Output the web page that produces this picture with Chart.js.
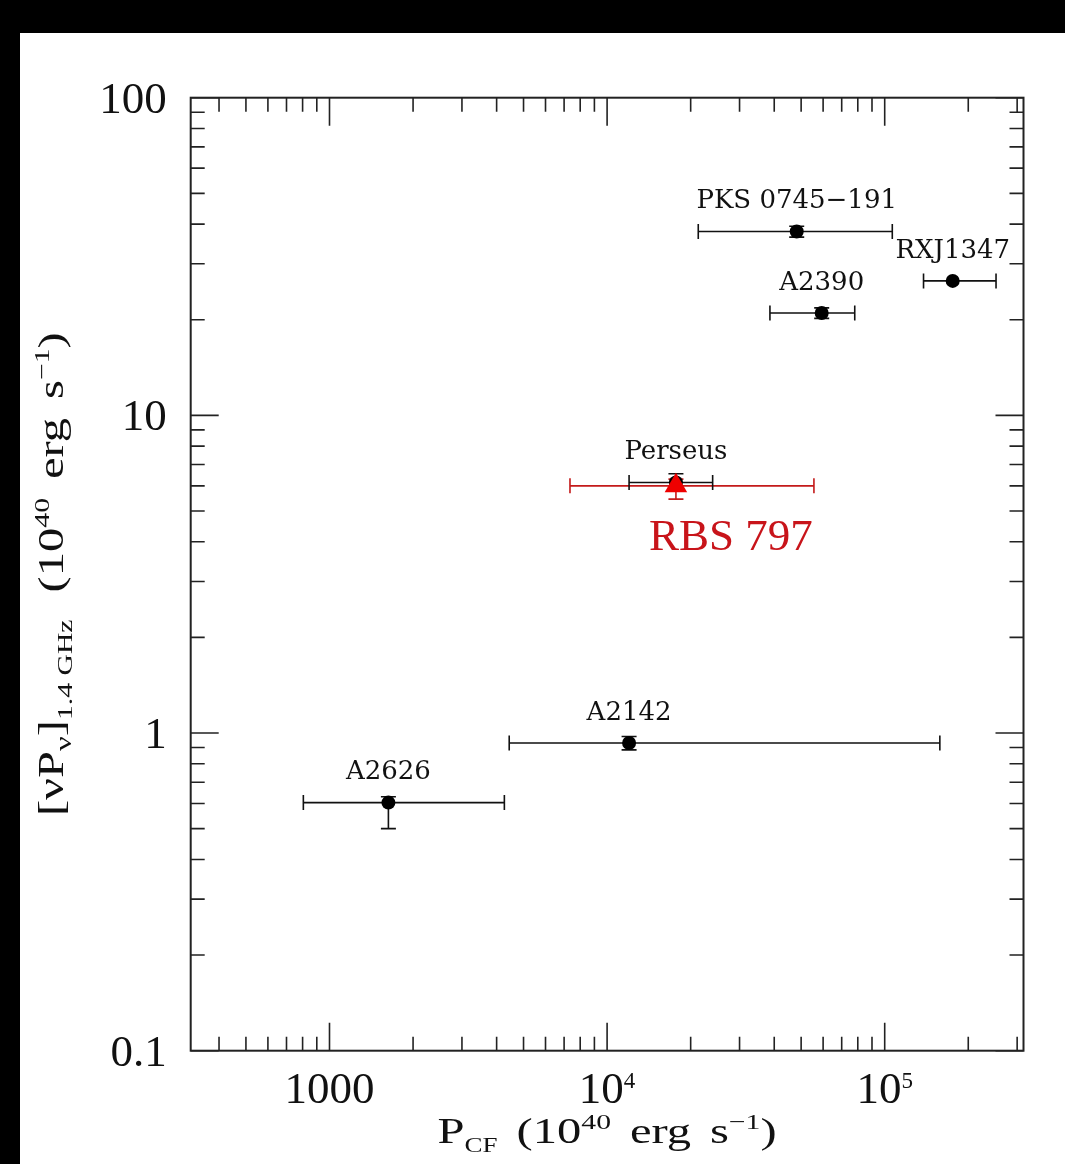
<!DOCTYPE html>
<html>
<head>
<meta charset="utf-8">
<script src="https://cdn.jsdelivr.net/npm/chart.js@4.4.1/dist/chart.umd.min.js"></script>
<style>
  html, body { margin: 0; padding: 0; background: #000; }
  #wrap { position: absolute; left: 20px; top: 33px; width: 1045px; height: 1131px; background: #fff; }
</style>
</head>
<body>
<div id="wrap"><canvas id="radio-cavity-chart"></canvas></div>
<script>
'use strict';

// clusters: cavity power vs. 1.4 GHz radio power, both in 1e40 erg/s
const clusterNames = ['PKS 0745−191', 'RXJ1347', 'A2390', 'Perseus', 'A2142', 'A2626'];
const cavityPower = [48200, 175800, 59300, 17700, 12000, 1630];
const cavityPowerLow = [21300, 138000, 38600, 12000, 4440, 805];
const cavityPowerHigh = [106500, 251800, 78000, 24000, 158000, 4265];
const radioPower = [37.9, 26.5, 21.0, 6.15, 0.93, 0.604];
const radioPowerLow = [36.4, null, 20.2, 5.8, 0.885, 0.5];
const radioPowerHigh = [39.4, null, 21.8, 6.55, 0.975, 0.63];

const rbsNames = ['RBS 797'];
const rbsCavityPower = [17700];
const rbsCavityPowerLow = [7350];
const rbsCavityPowerHigh = [55600];
const rbsRadioPower = [6.0];
const rbsRadioPowerLow = [5.45];
const rbsRadioPowerHigh = [6.3];

const xMajorTicks = [1000, 1e4, 1e5];
const xTickLabels = [['1000', ''], ['10', '4'], ['10', '5']];
const yMajorTicks = [0.1, 1, 10, 100];
const yTickLabels = ['0.1', '1', '10', '100'];

const X_MIN = Math.pow(10, 2.5);
const X_MAX = Math.pow(10, 5.5);
const Y_MIN = 0.1;
const Y_MAX = 100;

function minorTicks(min, max) {
  const out = [];
  for (let e = Math.floor(Math.log10(min)); e <= Math.ceil(Math.log10(max)); e++) {
    for (let m = 2; m <= 9; m++) {
      const v = m * Math.pow(10, e);
      if (v > min && v < max) out.push(v);
    }
  }
  return out;
}

function buildPoints(xs, xl, xh, ys, yl, yh, names) {
  return xs.map((x, i) => ({
    x: x, y: ys[i],
    xMin: xl[i], xMax: xh[i],
    yMin: yl[i], yMax: yh[i],
    name: names[i],
  }));
}

const serif = '"Liberation Serif", "Times New Roman", serif';

// draws a run of text pieces, each with its own size and baseline shift;
// stretch widens the glyphs a bit like the old plotting fonts
function drawRich(ctx, parts, x, y, align, stretch) {
  const sx = stretch || 1;
  let total = 0;
  parts.forEach((p) => {
    ctx.font = p.size + 'px ' + serif;
    p.w = ctx.measureText(p.t).width + (p.gap || 0);
    total += p.w;
  });
  total *= sx;
  const start = align === 'center' ? x - total / 2 : (align === 'right' ? x - total : x);
  ctx.save();
  ctx.translate(start, y);
  ctx.scale(sx, 1);
  ctx.textAlign = 'left';
  ctx.textBaseline = 'alphabetic';
  let cx = 0;
  parts.forEach((p) => {
    ctx.font = p.size + 'px ' + serif;
    ctx.fillText(p.t, cx, -(p.dy || 0));
    cx += p.w;
  });
  ctx.restore();
}

const errorBars = {
  id: 'errorBars',
  beforeDatasetsDraw(chart) {
    const { ctx, scales: { x, y } } = chart;
    const cap = 7.5;
    chart.data.datasets.forEach((ds) => {
      ctx.save();
      ctx.strokeStyle = ds.barColor;
      ctx.lineWidth = 1.6;
      ds.data.forEach((pt) => {
        const px = x.getPixelForValue(pt.x);
        const py = y.getPixelForValue(pt.y);
        ctx.beginPath();
        if (pt.xMin != null) {
          const l = x.getPixelForValue(pt.xMin);
          const r = x.getPixelForValue(pt.xMax);
          ctx.moveTo(l, py); ctx.lineTo(r, py);
          ctx.moveTo(l, py - cap); ctx.lineTo(l, py + cap);
          ctx.moveTo(r, py - cap); ctx.lineTo(r, py + cap);
        }
        if (pt.yMin != null) {
          const b = y.getPixelForValue(pt.yMin);
          const t = y.getPixelForValue(pt.yMax);
          ctx.moveTo(px, b); ctx.lineTo(px, t);
          ctx.moveTo(px - cap, b); ctx.lineTo(px + cap, b);
          ctx.moveTo(px - cap, t); ctx.lineTo(px + cap, t);
        }
        ctx.stroke();
      });
      ctx.restore();
    });
  },
  afterDatasetsDraw(chart) {
    const { ctx, scales: { x, y } } = chart;
    ctx.save();
    chart.data.datasets.forEach((ds) => {
      ctx.fillStyle = ds.labelColor;
      ctx.font = ds.labelFont;
      ctx.textAlign = ds.labelAlign;
      ctx.textBaseline = 'middle';
      ds.data.forEach((pt) => {
        const px = x.getPixelForValue(pt.x);
        const py = y.getPixelForValue(pt.y);
        ctx.fillText(pt.name, px + ds.labelDx, py + ds.labelDy);
      });
    });
    ctx.restore();
  }
};

// box with inward ticks on all four sides, tick labels and axis titles
const frameAxes = {
  id: 'frameAxes',
  afterDraw(chart) {
    const { ctx, chartArea: a, scales: { x, y } } = chart;
    ctx.save();
    ctx.strokeStyle = '#222';
    ctx.lineWidth = 2;
    ctx.strokeRect(a.left, a.top, a.right - a.left, a.bottom - a.top);

    ctx.lineWidth = 1.6;
    ctx.beginPath();
    const xTick = (v, len) => {
      const p = x.getPixelForValue(v);
      ctx.moveTo(p, a.bottom); ctx.lineTo(p, a.bottom - len);
      ctx.moveTo(p, a.top); ctx.lineTo(p, a.top + len);
    };
    const yTick = (v, len) => {
      const p = y.getPixelForValue(v);
      ctx.moveTo(a.left, p); ctx.lineTo(a.left + len, p);
      ctx.moveTo(a.right, p); ctx.lineTo(a.right - len, p);
    };
    minorTicks(X_MIN, X_MAX).forEach((v) => xTick(v, 14));
    xMajorTicks.forEach((v) => xTick(v, 28));
    minorTicks(Y_MIN, Y_MAX).forEach((v) => yTick(v, 14));
    yMajorTicks.forEach((v) => yTick(v, 28));
    ctx.stroke();

    ctx.fillStyle = '#111';
    xMajorTicks.forEach((v, i) => {
      const p = x.getPixelForValue(v);
      drawRich(ctx, [
        { t: xTickLabels[i][0], size: 45 },
        { t: xTickLabels[i][1], size: 23, dy: 15 },
      ], p, a.bottom + 52, 'center');
    });
    ctx.font = '45px ' + serif;
    ctx.textAlign = 'right';
    ctx.textBaseline = 'alphabetic';
    yMajorTicks.forEach((v, i) => {
      ctx.fillText(yTickLabels[i], a.left - 24, y.getPixelForValue(v) + 15);
    });

    // x title
    drawRich(ctx, [
      { t: 'P', size: 36 },
      { t: 'CF', size: 20, dy: -9, gap: 14 },
      { t: '(10', size: 36 },
      { t: '40', size: 22, dy: 14, gap: 14 },
      { t: 'erg', size: 36, gap: 14 },
      { t: 's', size: 36 },
      { t: '−1', size: 22, dy: 14 },
      { t: ')', size: 36 },
    ], (a.left + a.right) / 2, 1110, 'center', 1.35);

    // y title, rotated
    ctx.save();
    ctx.translate(43, (a.top + a.bottom) / 2);
    ctx.rotate(-Math.PI / 2);
    drawRich(ctx, [
      { t: '[νP', size: 36 },
      { t: 'ν', size: 24, dy: -8 },
      { t: ']', size: 36 },
      { t: '1.4 GHz', size: 22, dy: -9, gap: 20 },
      { t: '(10', size: 36 },
      { t: '40', size: 22, dy: 14, gap: 14 },
      { t: 'erg', size: 36, gap: 14 },
      { t: 's', size: 36 },
      { t: '−1', size: 22, dy: 14 },
      { t: ')', size: 36 },
    ], 0, 0, 'center', 1.35);
    ctx.restore();
    ctx.restore();
  }
};

const chartContext = document.querySelector('#radio-cavity-chart').getContext('2d');

const chartConfig = {
  type: 'scatter',
  data: {
    datasets: [
      {
        label: 'RBS 797',
        data: buildPoints(rbsCavityPower, rbsCavityPowerLow, rbsCavityPowerHigh,
          rbsRadioPower, rbsRadioPowerLow, rbsRadioPowerHigh, rbsNames),
        pointStyle: 'triangle',
        pointRadius: 13,
        backgroundColor: '#ee0000',
        borderColor: '#ee0000',
        borderWidth: 0,
        barColor: '#c41a1a',
        labelColor: '#c8141a',
        labelFont: '45px ' + serif,
        labelAlign: 'left',
        labelDx: -27,
        labelDy: 52,
      },
      {
        label: 'clusters',
        data: buildPoints(cavityPower, cavityPowerLow, cavityPowerHigh,
          radioPower, radioPowerLow, radioPowerHigh, clusterNames),
        pointStyle: 'circle',
        pointRadius: 7,
        backgroundColor: '#000',
        borderColor: '#000',
        borderWidth: 0,
        barColor: '#111',
        labelColor: '#111',
        labelFont: '26px "DejaVu Serif", serif',
        labelAlign: 'center',
        labelDx: 0,
        labelDy: -30,
      }
    ]
  },
  options: {
    responsive: true,
    maintainAspectRatio: false,
    animation: false,
    layout: { padding: { top: 64.7, right: 41.5, left: 0, bottom: 0 } },
    plugins: {
      legend: { display: false },
      tooltip: { enabled: false },
    },
    scales: {
      x: {
        type: 'logarithmic',
        min: X_MIN,
        max: X_MAX,
        grid: { display: false },
        border: { display: false },
        ticks: { display: false },
        afterFit: (scale) => { scale.height = 113.3; },
      },
      y: {
        type: 'logarithmic',
        min: Y_MIN,
        max: Y_MAX,
        grid: { display: false },
        border: { display: false },
        ticks: { display: false },
        afterFit: (scale) => { scale.width = 170.7; },
      }
    }
  },
  plugins: [errorBars, frameAxes],
};

const chart = new Chart(chartContext, chartConfig);
</script>
</body>
</html>
